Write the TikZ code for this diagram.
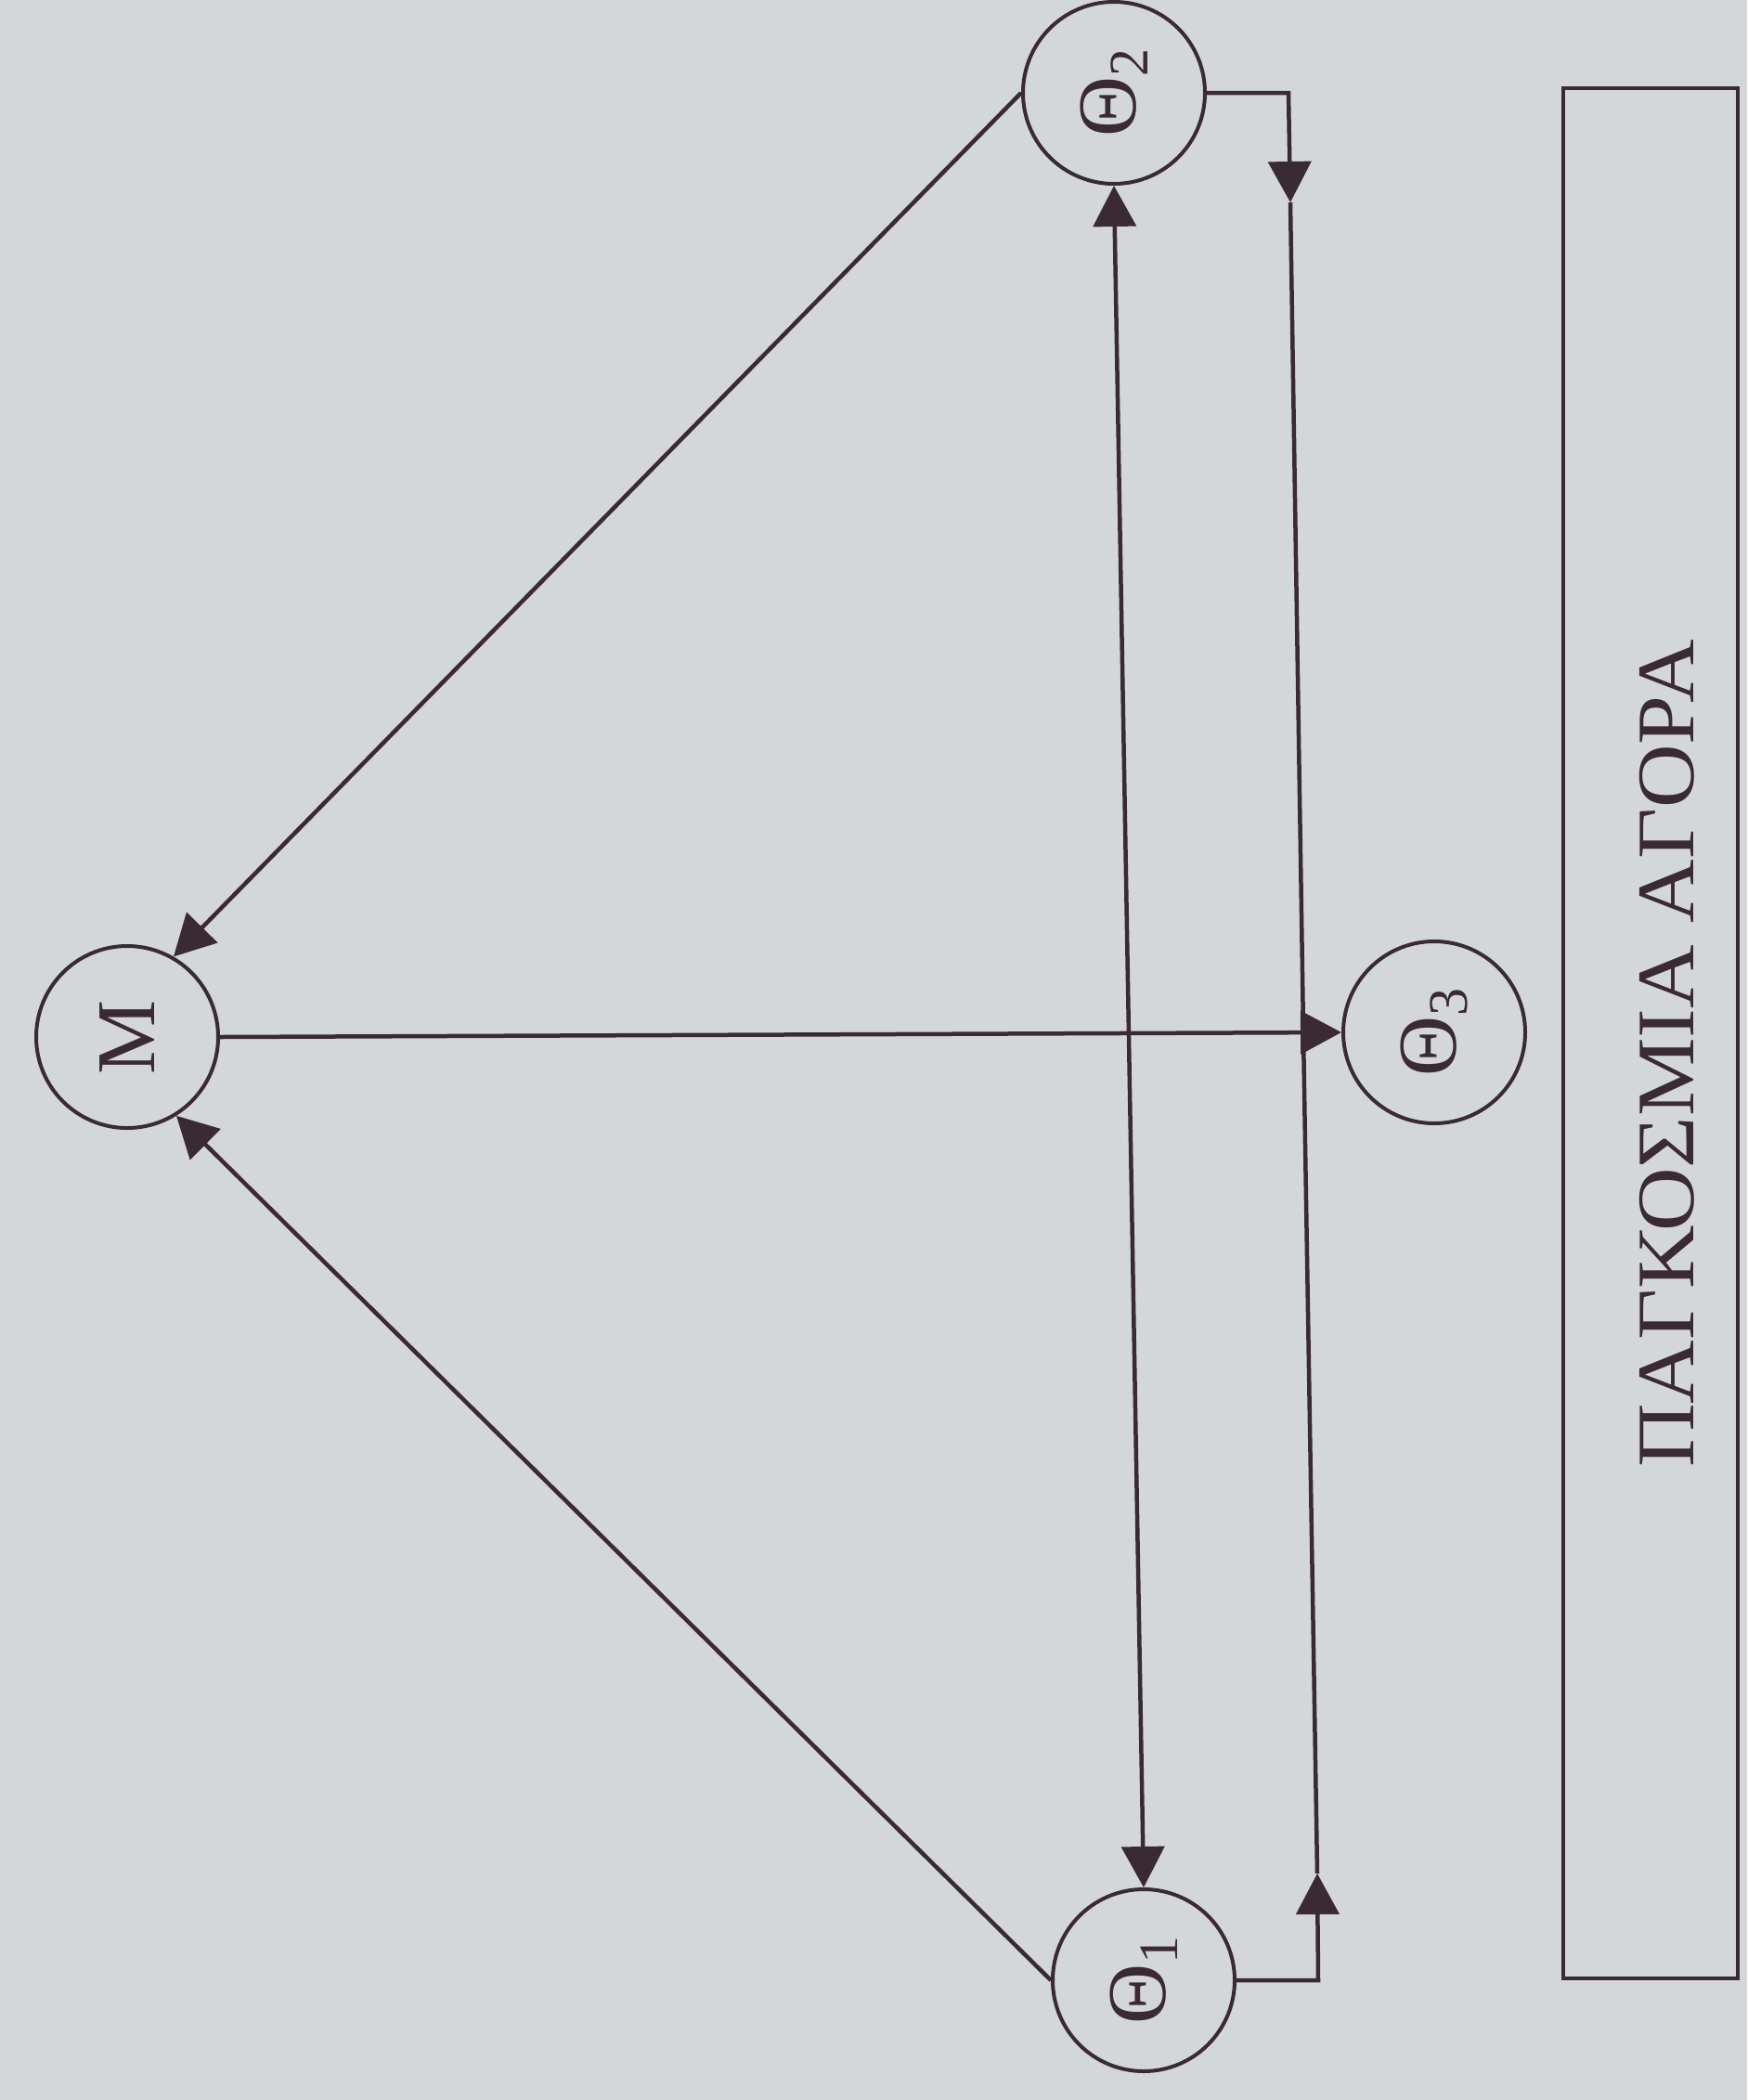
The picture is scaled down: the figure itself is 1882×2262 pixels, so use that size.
\documentclass[tikz,border=0pt]{standalone}
\usepackage{fontspec}
\setmainfont{Liberation Serif}
\usepackage{graphicx}
\usetikzlibrary{arrows.meta}
\definecolor{ink}{RGB}{58,42,50}
\definecolor{paper}{RGB}{212,215,217}
\newcommand{\thlab}[1]{\rotatebox{90}{Θ\raisebox{-0.14em}{\fontsize{60}{60}\selectfont #1}}}
\begin{document}
\begin{tikzpicture}[x=1pt,y=-1pt,
  ent/.style={circle,draw=ink,line width=4pt,minimum size=196pt,inner sep=0pt,
    font=\fontsize{90}{100}\selectfont,text=ink},
  conn/.style={draw=ink,line width=4.5pt},
  tip/.style={-{Triangle[length=44pt,width=46pt]}},
  dtip/.style={{Triangle[length=44pt,width=46pt]}-{Triangle[length=44pt,width=46pt]}},
  market/.style={draw=ink,line width=4pt,rotate=90,minimum width=2036pt,
    minimum height=188pt,inner sep=0pt},
  marketlab/.style={rotate=90,inner sep=0pt,font=\fontsize{88}{96}\selectfont,text=ink}]
\fill[paper] (0,0) rectangle (1882,2262);
\useasboundingbox (0,0) rectangle (1882,2262);
\node[ent] (m) at (137,1117) {\rotatebox{90}{Μ}};
\node[ent] (t2) at (1200,100) {\thlab{2}};
\node[ent] (t3) at (1545,1112) {\thlab{3}};
\node[ent] (t1) at (1232,2133) {\thlab{1}};
\node[market] (mk) at (1778,1113) {};
\node[marketlab] (mklab) at (1796,1135) {\scalebox{1.08}[1]{ΠΑΓΚΟΣΜΙΑ ΑΓΟΡΑ}};
\coordinate (b2c) at (1388,100);
\coordinate (b2a) at (1390,218);
\coordinate (b1c) at (1420,2133);
\coordinate (b1a) at (1419,2018);
\coordinate (j) at (1404,1112);
\draw[conn,tip] (t2.east) -- (b2c) -- (b2a);
\draw[conn] (b2a) -- (j);
\draw[conn,tip] (t1.east) -- (b1c) -- (b1a);
\draw[conn] (b1a) -- (j);
\draw[conn,tip] (m.east) -- (t3.west);
\draw[conn,tip] (t2.west) -- (m.60);
\draw[conn,tip] (t1.west) -- (m.-58);
\draw[conn,dtip] (t2.south) -- (t1.north);
\end{tikzpicture}
\end{document}
